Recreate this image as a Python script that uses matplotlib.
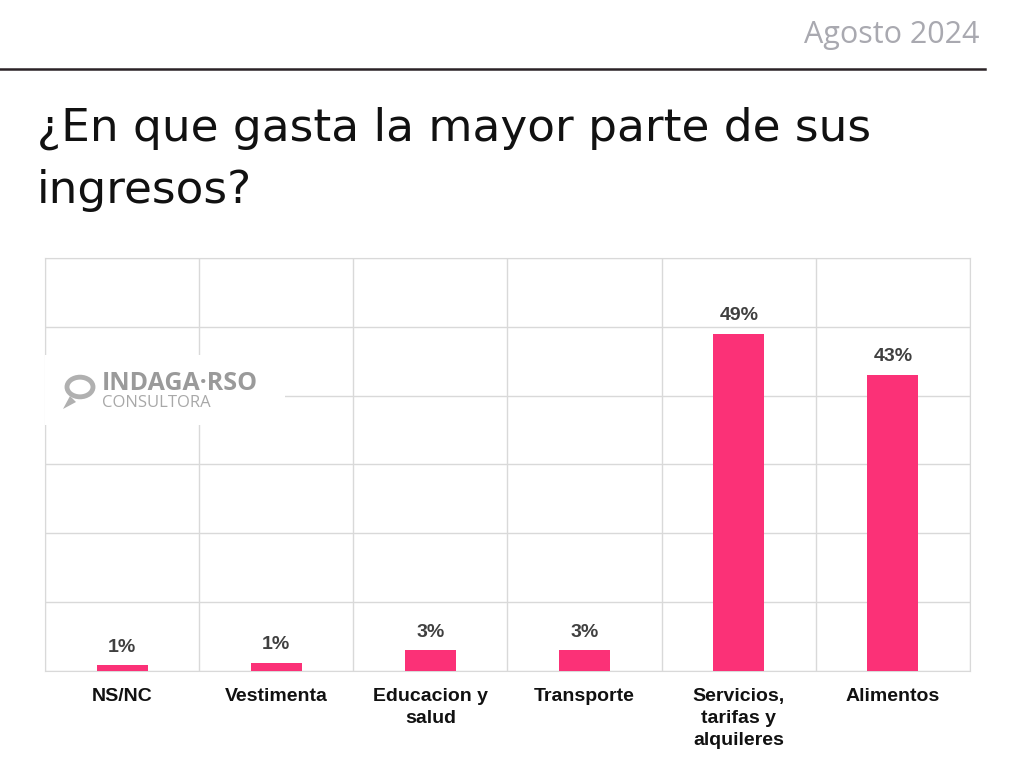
import numpy as np
import matplotlib.pyplot as plt
from matplotlib.lines import Line2D
from matplotlib.patches import Rectangle, Polygon

# datos
categorias = ['NS/NC', 'Vestimenta', 'Educacion y\nsalud', 'Transporte',
              'Servicios,\ntarifas y\nalquileres', 'Alimentos']
valores = [0.8, 1.2, 3, 3, 49, 43]
etiquetas = ['1%', '1%', '3%', '3%', '49%', '43%']

rosa = '#fb3177'
gris_grilla = '#d9d9d9'

fig = plt.figure(figsize=(10.24, 7.74), dpi=100)
fig.patch.set_facecolor('white')

# encabezado
fig.text(980 / 1024, 1 - 35 / 774, 'Agosto 2024', ha='right', va='center',
         fontsize=22, color='#a9a9b0', family='Open Sans')
fig.add_artist(Line2D([0, 985 / 1024], [1 - 69 / 774, 1 - 69 / 774],
                      color='#2b2326', lw=1.8, transform=fig.transFigure))

# título
fig.text(37 / 1024, 1 - 128 / 774, '¿En que gasta la mayor parte de sus',
         ha='left', va='center', fontsize=32.7, color='#111111', family='DejaVu Sans')
fig.text(37 / 1024, 1 - 190 / 774, 'ingresos?',
         ha='left', va='center', fontsize=32.7, color='#111111', family='DejaVu Sans')

# gráfico
ax = fig.add_axes([45 / 1024, 103 / 774, 925 / 1024, 413 / 774])
x = np.arange(len(categorias))
ax.bar(x, valores, width=0.33, color=rosa, zorder=3)
ax.set_xlim(-0.5, len(categorias) - 0.5)
ax.set_ylim(0, 60)

ax.set_yticks(np.arange(0, 61, 10))
ax.set_xticks(np.arange(-0.5, len(categorias), 1), minor=False)
ax.grid(True, color=gris_grilla, lw=1, zorder=0)
ax.tick_params(length=0, labelleft=False, labelbottom=False)
for s in ax.spines.values():
    s.set_color(gris_grilla)

for xi, v, et in zip(x, valores, etiquetas):
    ax.annotate(et, (xi, v), xytext=(0, 7), textcoords='offset points',
                ha='center', va='bottom', fontsize=14, fontweight='bold',
                color='#404040', family='Liberation Sans', zorder=4)

for xi, cat in zip(x, categorias):
    ax.annotate(cat, (xi, 0), xytext=(0, -12), textcoords='offset points',
                ha='center', va='top', multialignment='center', fontsize=14,
                fontweight='bold', color='#111111', family='Liberation Sans',
                linespacing=1.38, annotation_clip=False)

# marca de agua
fig.add_artist(Rectangle((45 / 1024, 1 - 425 / 774), 240 / 1024, 70 / 774,
                         transform=fig.transFigure, facecolor='white',
                         edgecolor='none', zorder=5))
fig.text(102 / 1024, 1 - 383 / 774, 'INDAGA·RSO', ha='left', va='center',
         fontsize=18, fontweight='bold', color='#9a9a9a',
         family='Open Sans', zorder=6)
fig.text(102 / 1024, 1 - 403 / 774, 'CONSULTORA', ha='left', va='center',
         fontsize=12, color='#a8a8a8', family='Open Sans', zorder=6)
fig.add_artist(plt.Circle((80 / 1024, 1 - 387 / 774), 13 / 1024,
                          transform=fig.transFigure, fill=False,
                          edgecolor='#b0b0b0', lw=3.5, zorder=6))
fig.add_artist(Polygon([(63 / 1024, 1 - 409 / 774), (70 / 1024, 1 - 396 / 774),
                        (76 / 1024, 1 - 402 / 774)],
                       transform=fig.transFigure, facecolor='#b0b0b0',
                       edgecolor='none', zorder=6))

fig.savefig('out.png', dpi=100, facecolor='white')
